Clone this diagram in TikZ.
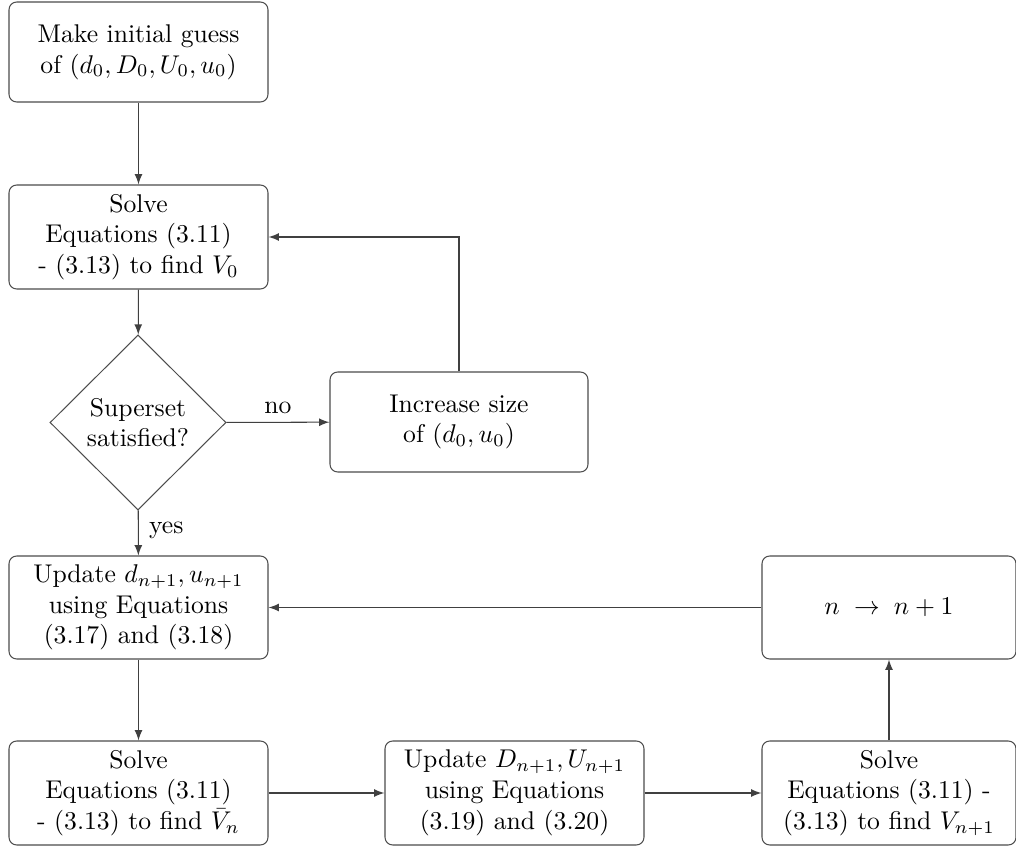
\documentclass[tikz,border=0pt]{standalone}
\usetikzlibrary{shapes.geometric,arrows}
\begin{document}
\begin{tikzpicture}[x=0.39pt,y=-0.39pt,
  box/.style={draw=black!70,rounded corners=3pt,align=center,minimum width=259*0.39pt,minimum height=103*0.39pt,inner sep=2pt},
  dia/.style={draw=black!70,diamond,align=center,minimum width=176*0.39pt,minimum height=175*0.39pt,inner sep=0pt},
  conn/.style={draw=black!75,-latex,line width=0.4pt,>=latex},
  lab/.style={inner sep=1pt}]
\useasboundingbox (0,0) rectangle (1016,850);
\node[box,minimum height=100*0.39pt] (b1) at (138.5,52) {Make initial guess\\of $(d_0,D_0,U_0,u_0)$};
\node[box,minimum height=104*0.39pt] (b2) at (138.5,237) {Solve\\Equations (3.11)\\- (3.13) to find $V_0$};
\node[dia] (d) at (138,422.5) {Superset\\satisfied?};
\node[box,minimum width=258*0.39pt,minimum height=100*0.39pt] (inc) at (459,422) {Increase size\\of $(d_0,u_0)$};
\node[box] (up) at (138.5,607.5) {Update $d_{n+1},u_{n+1}$\\using Equations\\(3.17) and (3.18)};
\node[box,minimum width=254*0.39pt] (nn) at (889,607.5) {$n\;\rightarrow\;n+1$};
\node[box,minimum height=104*0.39pt] (s1) at (138.5,793) {Solve\\Equations (3.11)\\- (3.13) to find $\bar{V}_n$};
\node[box,minimum height=104*0.39pt] (up2) at (514.5,793) {Update $D_{n+1},U_{n+1}$\\using Equations\\(3.19) and (3.20)};
\node[box,minimum width=254*0.39pt,minimum height=104*0.39pt] (s3) at (889,793) {Solve\\Equations (3.11) -\\(3.13) to find $V_{n+1}$};
\coordinate (c1) at (459,237);
\draw[conn] (b1) -- (b2);
\draw[conn] (b2) -- (d);
\draw[conn] (d) -- node[lab,above,yshift=2pt] {no} (inc);
\draw[conn] (inc.north) -- (c1) -- (b2.east);
\draw[conn] (d) -- node[lab,right,pos=0.45,xshift=3pt] {yes} (up);
\draw[conn] (nn) -- (up);
\draw[conn] (up) -- (s1);
\draw[conn] (s1) -- (up2);
\draw[conn] (up2) -- (s3);
\draw[conn] (s3) -- (nn);
\end{tikzpicture}
\end{document}
